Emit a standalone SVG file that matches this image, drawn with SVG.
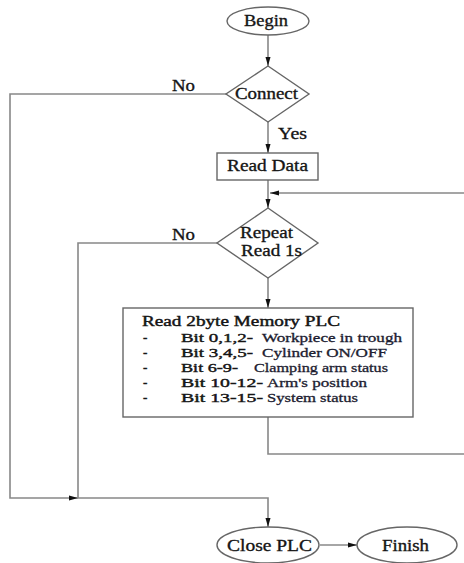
<svg xmlns="http://www.w3.org/2000/svg" width="464" height="563" viewBox="0 0 464 563">
<defs>
<marker id="ah" markerUnits="userSpaceOnUse" markerWidth="10" markerHeight="6" refX="9" refY="3" orient="auto">
<path d="M0,0.5 L9,3 L0,5.5 z" fill="#111"/>
</marker>
<style>
.shape{fill:#fff;stroke:#666;stroke-width:1.4}
.conn{fill:none;stroke:#888;stroke-width:1.6}
text{font-family:"Liberation Serif","Times New Roman",serif;fill:#151515;stroke:#151515;stroke-width:0.35}
.lbl{font-size:17px}
.h{font-size:15px;stroke-width:0.45}
.t{font-size:13px;stroke-width:0.4}
.d{font-size:12.5px;fill:#1c1c30;stroke:#1c1c30;stroke-width:0.3}
</style>
</defs>
<rect width="464" height="563" fill="#fff"/>
<g id="connectors">
<line class="conn" x1="268" y1="35" x2="268" y2="66" marker-end="url(#ah)"/>
<line class="conn" x1="268" y1="122" x2="268" y2="153" marker-end="url(#ah)"/>
<line class="conn" x1="268" y1="180" x2="268" y2="208" marker-end="url(#ah)"/>
<line class="conn" x1="268" y1="278" x2="268" y2="308" marker-end="url(#ah)"/>
<path class="conn" d="M268,417 V454 H470 V193 H270" marker-end="url(#ah)"/>
<path class="conn" d="M226,94 H10 V498 H78" marker-end="url(#ah)"/>
<path class="conn" d="M217,243 H78 V498 H268 V527" marker-end="url(#ah)"/>
<line class="conn" x1="320" y1="545" x2="357" y2="545" marker-end="url(#ah)"/>
<text class="lbl" x="172" y="91" textLength="23" lengthAdjust="spacingAndGlyphs">No</text>
<text class="lbl" x="278" y="139" textLength="29" lengthAdjust="spacingAndGlyphs">Yes</text>
<text class="lbl" x="172" y="240" textLength="23" lengthAdjust="spacingAndGlyphs">No</text>
</g>
<g id="begin">
<ellipse class="shape" cx="268" cy="21" rx="41" ry="14"/>
<text class="lbl" x="244" y="26" textLength="44" lengthAdjust="spacingAndGlyphs">Begin</text>
</g>
<g id="connect">
<polygon class="shape" points="268,66 309,94 268,122 226,94"/>
<text class="lbl" x="235" y="99" textLength="63" lengthAdjust="spacingAndGlyphs">Connect</text>
</g>
<g id="read-data">
<rect class="shape" x="217" y="153" width="101" height="27"/>
<text class="lbl" x="227" y="171" textLength="81" lengthAdjust="spacingAndGlyphs">Read Data</text>
</g>
<g id="repeat">
<polygon class="shape" points="268,208 318,243 268,278 217,243"/>
<text class="lbl" x="240" y="238" textLength="53" lengthAdjust="spacingAndGlyphs">Repeat</text>
<text class="lbl" x="241" y="256" textLength="61" lengthAdjust="spacingAndGlyphs">Read 1s</text>
</g>
<g id="read-memory">
<rect class="shape" x="123" y="308" width="290" height="109"/>
<text class="h" x="142" y="326" textLength="198" lengthAdjust="spacingAndGlyphs">Read 2byte Memory PLC</text>
<text class="t" x="143" y="342">-</text>
<text class="t" x="181" y="342" textLength="72" lengthAdjust="spacingAndGlyphs">Bit 0,1,2-</text>
<text class="d" x="262" y="342" textLength="140" lengthAdjust="spacingAndGlyphs">Workpiece in trough</text>
<text class="t" x="143" y="357">-</text>
<text class="t" x="181" y="357" textLength="72" lengthAdjust="spacingAndGlyphs">Bit 3,4,5-</text>
<text class="d" x="262" y="357" textLength="125" lengthAdjust="spacingAndGlyphs">Cylinder ON/OFF</text>
<text class="t" x="143" y="372">-</text>
<text class="t" x="181" y="372" textLength="57" lengthAdjust="spacingAndGlyphs">Bit 6-9-</text>
<text class="d" x="254" y="372" textLength="134" lengthAdjust="spacingAndGlyphs">Clamping arm status</text>
<text class="t" x="143" y="387">-</text>
<text class="t" x="181" y="387" textLength="82" lengthAdjust="spacingAndGlyphs">Bit 10-12-</text>
<text class="d" x="267" y="387" textLength="100" lengthAdjust="spacingAndGlyphs">Arm's position</text>
<text class="t" x="143" y="402">-</text>
<text class="t" x="181" y="402" textLength="82" lengthAdjust="spacingAndGlyphs">Bit 13-15-</text>
<text class="d" x="267" y="402" textLength="91" lengthAdjust="spacingAndGlyphs">System status</text>
</g>
<g id="close-plc">
<ellipse class="shape" cx="268" cy="545" rx="51" ry="18"/>
<text class="lbl" x="227" y="551" textLength="85" lengthAdjust="spacingAndGlyphs">Close PLC</text>
</g>
<g id="finish">
<ellipse class="shape" cx="407" cy="545" rx="50" ry="18"/>
<text class="lbl" x="382" y="551" textLength="47" lengthAdjust="spacingAndGlyphs">Finish</text>
</g>
</svg>
